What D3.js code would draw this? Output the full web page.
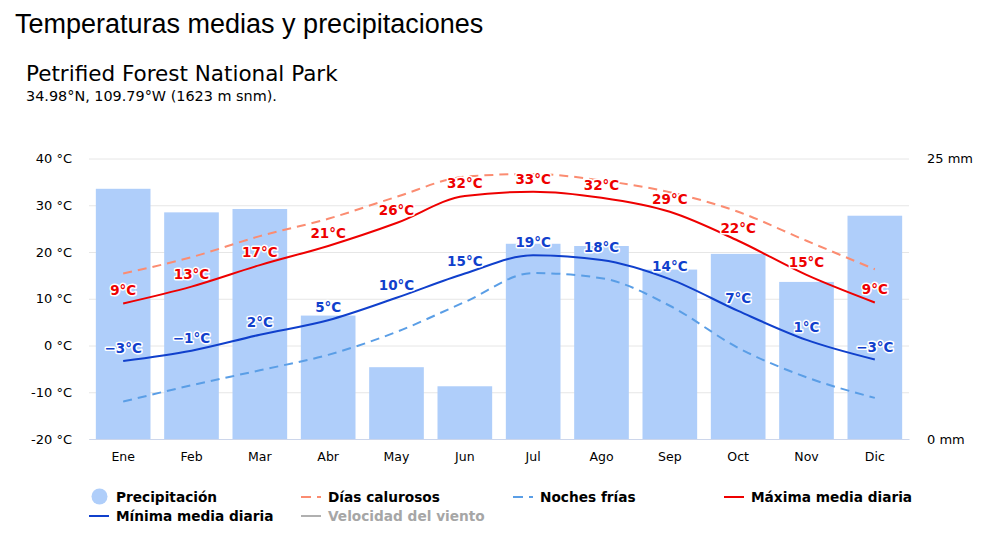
<!DOCTYPE html>
<html>
<head>
<meta charset="utf-8">
<script src="https://cdn.jsdelivr.net/npm/d3@7"></script>
<style>
    body { margin: 0; background: #fff; }
    svg { display: block; }
</style>
</head>
<body>
<svg id="chart"></svg>
<script>
// Monthly climate values
const months = ['Ene', 'Feb', 'Mar', 'Abr', 'May', 'Jun', 'Jul', 'Ago', 'Sep', 'Oct', 'Nov', 'Dic'];
const precipitation = [22.3, 20.2, 20.5, 11.0, 6.4, 4.7, 17.4, 17.2, 15.1, 16.5, 14.0, 19.9];
const hotDays = [15.4, 18.9, 23.4, 27.1, 31.8, 36.1, 36.7, 35.3, 32.8, 28.6, 22.4, 16.3];
const coldNights = [-12.0, -8.5, -5.3, -2.0, 2.9, 9.3, 15.5, 14.4, 8.5, -0.5, -6.8, -11.2];
const maxTemp = [9.0, 12.6, 17.2, 21.3, 26.2, 32.0, 32.9, 31.6, 28.6, 22.4, 15.1, 9.2];
const minTemp = [-3.3, -1.1, 2.3, 5.4, 10.2, 15.4, 19.3, 18.3, 14.2, 7.4, 1.2, -3.0];

const tempTicks = [-20, -10, 0, 10, 20, 30, 40];
const precipTicks = [0, 25];

const titleText = 'Temperaturas medias y precipitaciones';
const subtitleText = 'Petrified Forest National Park';
const locationText = '34.98°N, 109.79°W (1623 m snm).';
const legendLabels = ['Precipitación', 'Días calurosos', 'Noches frías', 'Máxima media diaria',
    'Mínima media diaria', 'Velocidad del viento'];

const width = 1000, height = 539;
const margin = {top: 158.5, right: 91, bottom: 100, left: 89};
const font = '"DejaVu Sans", sans-serif';

const svg = d3.select('#chart')
    .attr('width', width)
    .attr('height', height)
    .style('font-family', font);

// Titles
svg.append('text')
    .attr('x', 15).attr('y', 33)
    .attr('font-family', '"Liberation Sans", Arial, sans-serif')
    .attr('font-size', 27)
    .attr('fill', '#000')
    .text(titleText);

svg.append('text')
    .attr('x', 26).attr('y', 81)
    .attr('font-size', 21.5)
    .attr('fill', '#000')
    .text(subtitleText);

svg.append('text')
    .attr('x', 26).attr('y', 101)
    .attr('font-size', 14.4)
    .attr('fill', '#000')
    .text(locationText);

// Scales
const xScale = d3.scaleBand()
    .domain(months)
    .range([margin.left, width - margin.right])
    .paddingInner(0.2)
    .paddingOuter(0.1);

const yTemp = d3.scaleLinear()
    .domain([-20, 40])
    .range([height - margin.bottom, margin.top]);

const yPrecip = d3.scaleLinear()
    .domain([0, 25])
    .range([height - margin.bottom, margin.top]);

const xCenter = m => xScale(m) + xScale.bandwidth() / 2;

// Grid lines + left axis labels
const yAxisLeft = d3.axisLeft(yTemp)
    .tickValues(tempTicks)
    .tickSize(-(width - margin.left - margin.right))
    .tickPadding(17)
    .tickFormat(d => `${d} °C`);

svg.append('g')
    .attr('transform', `translate(${margin.left},0)`)
    .call(yAxisLeft)
    .call(g => g.select('.domain').remove())
    .call(g => g.selectAll('.tick line').attr('stroke', '#e6e6e6'))
    .call(g => g.selectAll('.tick text')
        .attr('font-family', font).attr('font-size', 13).attr('fill', '#000'));

// Right axis (precipitation)
const yAxisRight = d3.axisRight(yPrecip)
    .tickValues(precipTicks)
    .tickSize(0)
    .tickPadding(18)
    .tickFormat(d => `${d} mm`);

svg.append('g')
    .attr('transform', `translate(${width - margin.right},0)`)
    .call(yAxisRight)
    .call(g => g.select('.domain').remove())
    .call(g => g.selectAll('.tick text')
        .attr('font-family', font).attr('font-size', 13).attr('fill', '#000'));

// Bars
svg.append('g')
    .selectAll('rect')
    .data(precipitation)
    .join('rect')
    .attr('x', (d, i) => xScale(months[i]))
    .attr('width', xScale.bandwidth())
    .attr('y', d => yPrecip(d))
    .attr('height', d => yPrecip(0) - yPrecip(d))
    .attr('fill', '#afcefa');

// Bottom axis
const xAxis = d3.axisBottom(xScale).tickSize(0).tickPadding(13);
svg.append('g')
    .attr('transform', `translate(0,${height - margin.bottom})`)
    .call(xAxis)
    .call(g => g.select('.domain').attr('stroke', '#ccd6eb'))
    .call(g => g.selectAll('.tick text')
        .attr('font-family', font).attr('font-size', 12.5).attr('fill', '#000'));

// Lines
const line = d3.line()
    .x((d, i) => xCenter(months[i]))
    .y(d => yTemp(d))
    .curve(d3.curveMonotoneX);

const series = [
    {values: hotDays, color: '#fb8c71', dash: '9,6'},
    {values: coldNights, color: '#5a9ee6', dash: '9,6'},
    {values: maxTemp, color: '#ee0000', dash: null, labels: true},
    {values: minTemp, color: '#1040cc', dash: null, labels: true}
];

series.forEach(s => {
    svg.append('path')
        .datum(s.values)
        .attr('fill', 'none')
        .attr('stroke', s.color)
        .attr('stroke-width', 2)
        .attr('stroke-dasharray', s.dash)
        .attr('d', line);
});

// Data labels with white halo
const fmt = d3.format('.0f');
series.filter(s => s.labels).forEach(s => {
    svg.append('g')
        .selectAll('text')
        .data(s.values)
        .join('text')
        .attr('x', (d, i) => xCenter(months[i]))
        .attr('y', d => yTemp(d) - 8)
        .attr('text-anchor', 'middle')
        .attr('font-size', 13.5)
        .attr('font-weight', 'bold')
        .attr('fill', s.color)
        .attr('stroke', '#fff')
        .attr('stroke-width', 3)
        .attr('stroke-linejoin', 'round')
        .attr('paint-order', 'stroke')
        .text(d => `${fmt(Math.round(d))}°C`);
});

// Legend
const legendItems = [
    {label: legendLabels[0], x: 116, y: 497, type: 'circle', color: '#afcefa'},
    {label: legendLabels[1], x: 328, y: 497, type: 'dash', color: '#fb8c71'},
    {label: legendLabels[2], x: 540, y: 497, type: 'dash', color: '#5a9ee6'},
    {label: legendLabels[3], x: 751, y: 497, type: 'line', color: '#ee0000'},
    {label: legendLabels[4], x: 116, y: 516, type: 'line', color: '#1040cc'},
    {label: legendLabels[5], x: 328, y: 516, type: 'line', color: '#b0b0b0', hidden: true}
];

const legend = svg.append('g');
legendItems.forEach(it => {
    const g = legend.append('g');
    if (it.type === 'circle') {
        g.append('circle')
            .attr('cx', it.x - 16.5).attr('cy', it.y - 0.5)
            .attr('r', 8)
            .attr('fill', it.color);
    } else {
        g.append('line')
            .attr('x1', it.x - 27).attr('x2', it.x - 7)
            .attr('y1', it.y).attr('y2', it.y)
            .attr('stroke', it.color)
            .attr('stroke-width', 2)
            .attr('stroke-dasharray', it.type === 'dash' ? '10,6' : null);
    }
    g.append('text')
        .attr('x', it.x).attr('y', it.y + 5)
        .attr('font-size', 13.7)
        .attr('font-weight', 'bold')
        .attr('fill', it.hidden ? '#a6a6a6' : '#000')
        .text(it.label);
});
</script>
</body>
</html>
